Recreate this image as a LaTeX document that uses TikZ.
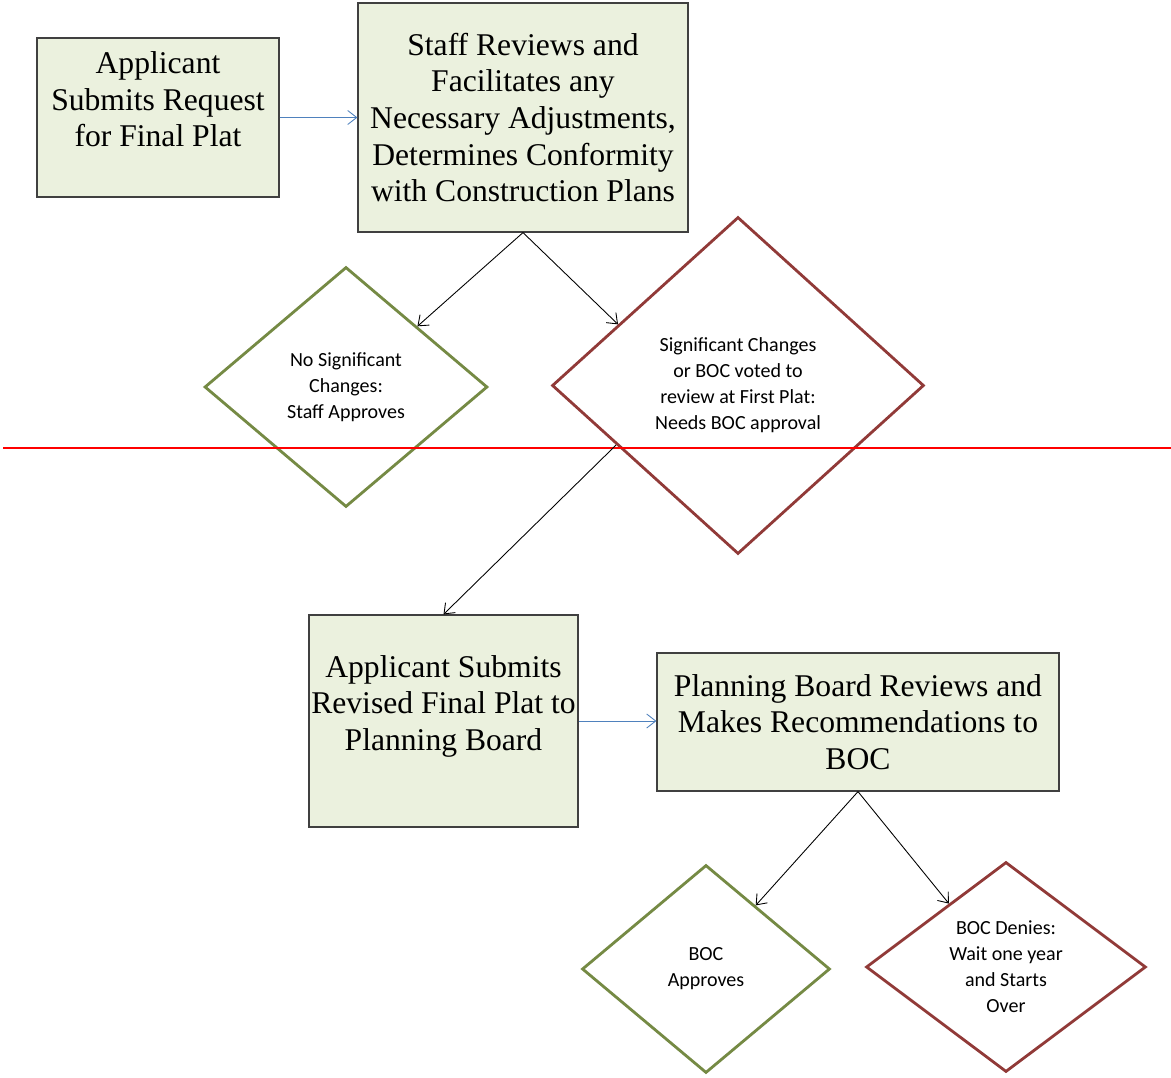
\documentclass[tikz,border=0pt]{standalone}
\usepackage{fontspec}
\newfontfamily\diafont{Carlito}
\newfontfamily\boxfont{Liberation Serif}
\usetikzlibrary{shapes.geometric,arrows.meta}
\definecolor{boxfill}{RGB}{235,241,222}
\definecolor{okgreen}{RGB}{117,138,68}
\definecolor{nored}{RGB}{145,58,56}
\definecolor{linkblue}{RGB}{79,129,189}
\tikzset{stepbox/.style={draw=black!75,line width=0.7pt,fill=boxfill,align=center,inner sep=0pt,font=\boxfont\fontsize{18}{20.8}\selectfont}}
\tikzset{decision/.style={diamond,line width=1.6pt,align=center,inner sep=0pt,font=\diafont\fontsize{11.4}{14.8}\selectfont}}
\tikzset{okdia/.style={decision,draw=okgreen},nodia/.style={decision,draw=nored}}
\tikzset{flow/.style={-{Straight Barb[length=1.8mm,width=2.8mm]},line width=0.5pt}}

\begin{document}
\begin{tikzpicture}[x=0.02cm,y=-0.02cm]
    \useasboundingbox (0,0) rectangle (1171,1078);

    % request and staff review
    \node[stepbox,minimum width=4.84cm,minimum height=3.18cm] (request) at (158,117.5) {Applicant\\Submits Request\\for Final Plat\\~};
    \node[stepbox,minimum width=6.6cm,minimum height=4.58cm] (review) at (523,117.5) {Staff Reviews and\\Facilitates any\\Necessary Adjustments,\\Determines Conformity\\with Construction Plans};
    \draw[flow,linkblue] (request) -- (review);

    % staff decision
    \node[okdia,minimum width=5.66cm,minimum height=4.8cm] (staffok) at (346,387) {No Significant\\Changes:\\Staff Approves};
    \node[nodia,minimum width=7.44cm,minimum height=6.74cm] (bocneeded) at (738,385.5) {Significant Changes\\or BOC voted to\\review at First Plat:\\Needs BOC approval};
    \draw[flow] (review.south) -- (staffok.north east);
    \draw[flow] (review.south) -- (bocneeded.153);

    % cut line
    \draw[red,line width=0.8pt] (3,448) -- (1171,448);

    % planning board
    \node[stepbox,minimum width=5.38cm,minimum height=4.24cm] (revised) at (443.5,721) {Applicant Submits\\Revised Final Plat to\\Planning Board\\~};
    \node[stepbox,minimum width=8.04cm,minimum height=2.76cm] (board) at (858,722) {Planning Board Reviews and\\Makes Recommendations to\\BOC};
    \draw[flow] (bocneeded.206) -- (revised.north);
    \draw[flow,linkblue] (revised.east) -- (revised.east -| board.west);

    % BOC decision
    \node[okdia,minimum width=4.96cm,minimum height=4.16cm] (bocok) at (706,969) {BOC\\Approves};
    \node[nodia,minimum width=5.6cm,minimum height=4.2cm] (bocdenies) at (1006,967) {BOC Denies:\\Wait one year\\and Starts\\Over};
    \draw[flow] (board.south) -- (bocok.52);
    \draw[flow] (board.south) -- (bocdenies.132);
\end{tikzpicture}
\end{document}
